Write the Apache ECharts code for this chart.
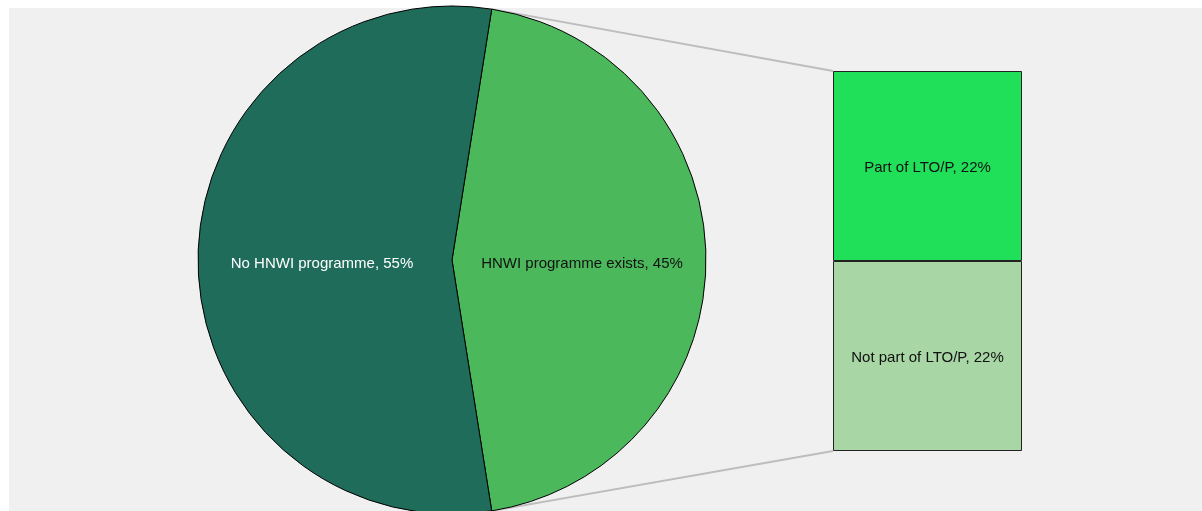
<!DOCTYPE html>
<html>
<head>
<meta charset="utf-8">
<script src="https://cdn.jsdelivr.net/npm/echarts@6/dist/echarts.min.js"></script>
<style>
  html, body { margin: 0; padding: 0; background: #fff; }
  #chart { width: 1202px; height: 511px; }
</style>
</head>
<body>
<div id="chart"></div>
<script>
// pie data
const pieNames = ['HNWI programme exists', 'No HNWI programme'];
const pieValues = [45, 55];
const pieColors = ['#4bb95b', '#1f6c5a'];
const pieLabelColors = ['#111', '#fff'];

// breakdown bar data (bottom to top)
const barNames = ['Not part of LTO/P', 'Part of LTO/P'];
const barValues = [22, 22];
const barColors = ['#a9d6a5', '#20e05a'];

// layout
const cx = 452, cy = 260, R = 254;
const startAngle = 81;
const barLeft = 833, barTop = 71, barW = 189, barH = 380;
const labelFont = 'Liberation Sans, Arial, sans-serif';

let chart = echarts.init(document.getElementById('chart'));

// slice boundaries on the circle, for the connector lines
const total = pieValues.reduce((a, b) => a + b, 0);
const endAngle = startAngle - pieValues[0] / total * 360;
function onCircle(deg) {
  const r = deg * Math.PI / 180;
  return [cx + R * Math.cos(r), cy - R * Math.sin(r)];
}
const p1 = onCircle(startAngle);
const p2 = onCircle(endAngle);

chart.setOption({
  animation: false,
  backgroundColor: '#fff',
  graphic: [
    {
      type: 'rect', z: -10, silent: true,
      shape: { x: 9, y: 8, width: 1202, height: 520 },
      style: { fill: '#f0f0f0' }
    },
    {
      type: 'line', z: 1, silent: true,
      shape: { x1: p1[0], y1: p1[1], x2: barLeft, y2: barTop },
      style: { stroke: '#bdbdbd', lineWidth: 2 }
    },
    {
      type: 'line', z: 1, silent: true,
      shape: { x1: p2[0], y1: p2[1], x2: barLeft, y2: barTop + barH },
      style: { stroke: '#bdbdbd', lineWidth: 2 }
    }
  ],
  grid: { left: barLeft, top: barTop, width: barW, height: barH },
  xAxis: { type: 'category', data: [''], show: false },
  yAxis: { type: 'value', min: 0, max: barValues[0] + barValues[1], show: false },
  series: [
    {
      type: 'pie',
      center: [cx, cy],
      radius: [0, R],
      startAngle: startAngle,
      clockwise: true,
      z: 3,
      itemStyle: { borderColor: '#000', borderWidth: 1 },
      label: {
        show: true,
        position: 'inner',
        fontSize: 15,
        fontFamily: labelFont,
        offset: [0, 4],
        formatter: p => p.name + ', ' + p.value + '%'
      },
      labelLine: { show: false },
      emphasis: { disabled: true },
      data: pieNames.map((n, i) => ({
        name: n, value: pieValues[i],
        itemStyle: { color: pieColors[i] },
        label: { color: pieLabelColors[i] }
      }))
    }
  ].concat(barNames.map((n, i) => ({
    type: 'bar',
    name: n,
    stack: 'total',
    barWidth: '100%',
    z: 3,
    itemStyle: { color: barColors[i], borderColor: '#222', borderWidth: 1 },
    label: {
      show: true,
      position: 'inside',
      color: '#111',
      fontSize: 15,
      fontFamily: labelFont,
      offset: [0, 2],
      formatter: p => p.seriesName + ', ' + p.value + '%'
    },
    emphasis: { disabled: true },
    data: [barValues[i]]
  })))
});
</script>
</body>
</html>
